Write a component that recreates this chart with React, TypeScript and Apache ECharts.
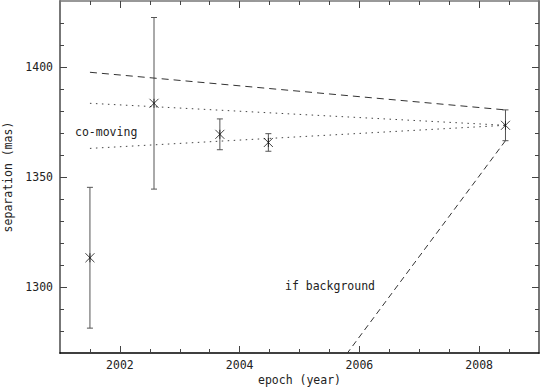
import React, { useEffect, useRef } from "react";
import * as echarts from "echarts";

// measured points: [epoch, separation, error]
const epochs = [2001.5, 2002.57, 2003.67, 2004.48, 2008.44];
const separations = [1313.3, 1383.5, 1369.4, 1365.7, 1373.5];
const errors = [32, 39, 7, 4, 7];

// model lines (endpoints)
const comovingDashed = [[2001.5, 1397.6], [2008.44, 1380.5]];
const comovingDottedUpper = [[2001.5, 1383.5], [2008.44, 1373.5]];
const comovingDottedLower = [[2001.5, 1363.0], [2008.44, 1373.5]];
const backgroundDashed = [[2008.44, 1366.5], [2005.8, 1270]];

// axes
const xMin = 2001;
const xMax = 2009;
const yMin = 1270;
const yMax = 1430;
const xMajor = [2002, 2004, 2006, 2008];
const xMinor = [2001.5, 2002.5, 2003, 2003.5, 2004.5, 2005, 2005.5, 2006.5, 2007, 2007.5, 2008.5];
const yMajor = [1300, 1350, 1400];
const yMinor = [1280, 1290, 1310, 1320, 1330, 1340, 1360, 1370, 1380, 1390, 1410, 1420];

const FONT = "DejaVu Sans Mono";
const TXT = "#222";

export default function App() {
  const ref = useRef<HTMLDivElement>(null);
  useEffect(() => {
    if (!ref.current) return;
    const chart = echarts.init(ref.current, null, { renderer: "svg" });
    const pts = epochs.map((e, i) => [e, separations[i], errors[i]]);

    const xAx = (pos: string, ticks: number[], len: number, line: any, labels: boolean, extra: any = {}) => ({
      type: "value",
      min: xMin,
      max: xMax,
      position: pos,
      axisLine: line ? { show: true, lineStyle: line } : { show: false },
      axisTick: { show: true, inside: true, length: len, customValues: ticks, lineStyle: { color: "#444", width: 1 } },
      axisLabel: labels
        ? { show: true, customValues: ticks, margin: 6, fontFamily: FONT, fontSize: 11.5, color: TXT, formatter: (v: number) => String(v) }
        : { show: false },
      splitLine: { show: false },
      ...extra,
    });
    const yAx = (pos: string, ticks: number[], len: number, line: any, labels: boolean, extra: any = {}) => ({
      type: "value",
      min: yMin,
      max: yMax,
      position: pos,
      axisLine: line ? { show: true, lineStyle: line } : { show: false },
      axisTick: { show: true, inside: true, length: len, customValues: ticks, lineStyle: { color: "#444", width: 1 } },
      axisLabel: labels
        ? { show: true, customValues: ticks, margin: 7, fontFamily: FONT, fontSize: 11.5, color: TXT, formatter: (v: number) => String(v) }
        : { show: false },
      splitLine: { show: false },
      ...extra,
    });

    chart.setOption({
      animation: false,
      backgroundColor: "#fff",
      grid: { left: 60, right: 2, top: 1, bottom: 34, outerBoundsMode: "none" },
      xAxis: [
        xAx("bottom", xMajor, 7, { color: "#000", width: 1.5 }, true, {
          name: "epoch (year)",
          nameLocation: "middle",
          nameGap: 21,
          nameMoveOverlap: false,
          nameTextStyle: { fontFamily: FONT, fontSize: 11.5, color: TXT },
        }),
        xAx("bottom", xMinor, 4, null, false),
        xAx("top", xMajor, 7, { color: "#777", width: 1.5 }, false),
        xAx("top", xMinor, 4, null, false),
      ],
      yAxis: [
        yAx("left", yMajor, 7, { color: "#777", width: 2 }, true, {
          name: "separation (mas)",
          nameLocation: "middle",
          nameGap: 46,
          nameMoveOverlap: false,
          nameTextStyle: { fontFamily: FONT, fontSize: 11.5, color: TXT },
        }),
        yAx("left", yMinor, 4, null, false),
        yAx("right", yMajor, 7, { color: "#777", width: 2 }, false),
        yAx("right", yMinor, 4, null, false),
      ],
      series: [
        {
          type: "line",
          data: comovingDashed,
          showSymbol: false,
          lineStyle: { color: "#333", width: 1, type: [7, 5] },
        },
        {
          type: "line",
          data: comovingDottedUpper,
          showSymbol: false,
          lineStyle: { color: "#444", width: 1, type: [1.5, 4.5] },
        },
        {
          type: "line",
          data: comovingDottedLower,
          showSymbol: false,
          lineStyle: { color: "#444", width: 1, type: [1.5, 4.5] },
        },
        {
          type: "line",
          data: backgroundDashed,
          showSymbol: false,
          lineStyle: { color: "#333", width: 1, type: [6, 4] },
        },
        {
          type: "custom",
          data: pts,
          renderItem: (params: any, api: any) => {
            const x = api.value(0);
            const y = api.value(1);
            const e = api.value(2);
            const top = api.coord([x, y + e]);
            const bot = api.coord([x, y - e]);
            const w = 3;
            const st = { stroke: "#555", lineWidth: 1 };
            return {
              type: "group",
              children: [
                { type: "line", shape: { x1: top[0], y1: top[1], x2: bot[0], y2: bot[1] }, style: st },
                { type: "line", shape: { x1: top[0] - w, y1: top[1], x2: top[0] + w, y2: top[1] }, style: st },
                { type: "line", shape: { x1: bot[0] - w, y1: bot[1], x2: bot[0] + w, y2: bot[1] }, style: st },
              ],
            };
          },
          z: 3,
        },
        {
          type: "scatter",
          data: pts.map((p) => [p[0], p[1]]),
          symbol: "path://M0,0L10,10M10,0L0,10M5,0L5,10",
          symbolSize: 9,
          itemStyle: { color: "transparent", borderColor: "#111", borderWidth: 1 },
          z: 4,
        },
      ],
      graphic: [
        {
          type: "text",
          left: 75,
          top: 126,
          style: { text: "co-moving", font: `11.5px "${FONT}"`, fill: TXT },
        },
        {
          type: "text",
          left: 285,
          top: 280,
          style: { text: "if background", font: `11.5px "${FONT}"`, fill: TXT },
        },
      ],
    });
    return () => chart.dispose();
  }, []);
  return <div ref={ref} style={{ width: 541, height: 387, position: "absolute", left: 0, top: 0 }} />;
}
